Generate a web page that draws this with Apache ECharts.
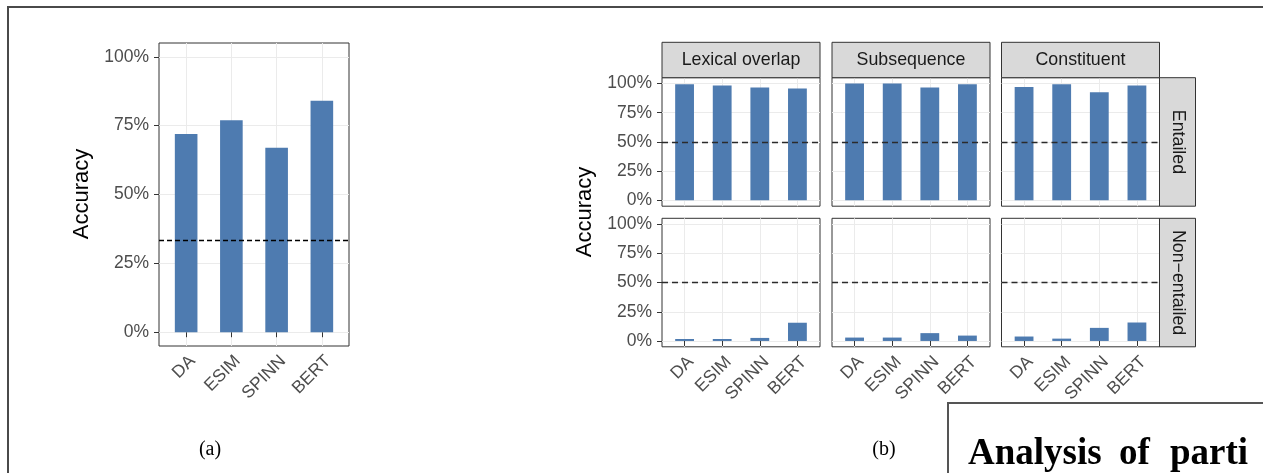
<!DOCTYPE html>
<html><head><meta charset="utf-8">
<script src="https://cdn.jsdelivr.net/npm/echarts@6/dist/echarts.min.js"></script>
<style>html,body{margin:0;padding:0;background:#fff}#c{width:1263px;height:473px}</style>
</head><body><div id="c"></div>
<script>
// ---------- data ----------
const models = ['DA', 'ESIM', 'SPINN', 'BERT'];
const overallAccuracy = [72, 77, 67, 84];
const overallChance = 33.3;
const heuristics = ['Lexical overlap', 'Subsequence', 'Constituent'];
const labelRows = ['Entailed', 'Non\u2212entailed'];
const lexicalEntailed = [99.4, 98.3, 96.6, 95.7];
const subsequenceEntailed = [100, 100, 96.6, 99.4];
const constituentEntailed = [97.1, 99.4, 92.5, 98.3];
const lexicalNonEntailed = [1.7, 1.7, 2.6, 15.6];
const subsequenceNonEntailed = [2.9, 2.9, 6.7, 4.6];
const constituentNonEntailed = [3.8, 2.0, 11.2, 15.8];
const heuristicChance = 50;
const yTicks = [0, 25, 50, 75, 100];
const captions = ['(a)', '(b)'];
const boxHeadingWords = ['Analysis', 'of', 'parti'];

// ---------- styling ----------
const FONT = '"Liberation Sans", Arial, Helvetica, sans-serif';
const SERIF = '"Liberation Serif", "Times New Roman", serif';
const TICK_COLOR = '#4D4D4D';
const BAR = '#4E7BB0';
const GRIDLINE = '#EBEBEB';
const BORDER = '#333333';
const TICK_FS = 17.5;
const xPos = models.map((_, i) => i + 1);

const panelValues = [
  [lexicalEntailed, subsequenceEntailed, constituentEntailed],
  [lexicalNonEntailed, subsequenceNonEntailed, constituentNonEntailed]
];

const leftGrid = { left: 159, top: 43, width: 190, height: 303 };
const colLeft = [662, 832, 1001.5];
const colW = 158;
const rowTop = [77.7, 218.3];
const rowH = 128.5;
const stripTop = 42.3;
const stripRightW = 36;

function xAxisFor(gi, showLabels) {
  return {
    type: 'value', gridIndex: gi, min: 0.4, max: 4.6,
    axisLine: { show: false },
    axisTick: { show: showLabels, customValues: xPos, length: 5, lineStyle: { color: BORDER, width: 1 } },
    axisLabel: {
      show: showLabels, customValues: xPos, rotate: 45, margin: 6,
      align: 'right', verticalAlign: 'top',
      fontFamily: FONT, fontSize: TICK_FS, color: TICK_COLOR,
      formatter: v => models[Math.round(v) - 1] || ''
    },
    splitLine: { show: true, lineStyle: { color: GRIDLINE, width: 1 } }
  };
}
function yAxisFor(gi, showLabels) {
  return {
    type: 'value', gridIndex: gi, min: -5, max: 105,
    axisLine: { show: false },
    axisTick: { show: showLabels, customValues: yTicks, length: 5, lineStyle: { color: BORDER, width: 1 } },
    axisLabel: {
      show: showLabels, customValues: yTicks, margin: 10,
      fontFamily: FONT, fontSize: TICK_FS, color: TICK_COLOR,
      formatter: v => v + '%'
    },
    splitLine: { show: true, lineStyle: { color: GRIDLINE, width: 1 } }
  };
}
function barSeries(gi, values, chance, bw, dashColor, dash) {
  return {
    type: 'bar', xAxisIndex: gi, yAxisIndex: gi,
    data: values.map((v, i) => [xPos[i], v]),
    barWidth: bw,
    itemStyle: { color: BAR },
    markLine: {
      silent: true, symbol: ['none', 'none'], label: { show: false },
      lineStyle: { type: dash, color: dashColor, width: 1.4 },
      data: [{ yAxis: chance }]
    }
  };
}

const grids = [Object.assign({ show: true, borderColor: BORDER, borderWidth: 1, backgroundColor: 'transparent' }, leftGrid)];
const xAxes = [xAxisFor(0, true)];
const yAxes = [yAxisFor(0, true)];
const series = [barSeries(0, overallAccuracy, overallChance, 0.5 * leftGrid.width / 4.2, '#000', [5, 3])];

for (let r = 0; r < 2; r++) {
  for (let c = 0; c < 3; c++) {
    const gi = grids.length;
    grids.push({ show: true, borderColor: BORDER, borderWidth: 1, backgroundColor: 'transparent',
      left: colLeft[c], top: rowTop[r], width: colW, height: rowH });
    xAxes.push(xAxisFor(gi, r === 1));
    yAxes.push(yAxisFor(gi, c === 0));
    series.push(barSeries(gi, panelValues[r][c], heuristicChance, 0.5 * colW / 4.2, '#2b2b2b', [6, 4]));
  }
}

const graphic = [];
// outer frame of the screenshot
graphic.push({ type: 'rect', z: 1, shape: { x: 8, y: 7, width: 1400, height: 600 },
  style: { fill: 'none', stroke: '#4a4a4a', lineWidth: 2 } });
// column strips
heuristics.forEach((h, c) => {
  graphic.push({ type: 'rect', z: 5, shape: { x: colLeft[c], y: stripTop, width: colW, height: rowTop[0] - stripTop },
    style: { fill: '#D9D9D9', stroke: BORDER, lineWidth: 1 } });
  graphic.push({ type: 'text', z: 6, x: colLeft[c] + colW / 2, y: (stripTop + rowTop[0]) / 2,
    style: { text: h, fontFamily: FONT, fontSize: 17.8, fill: '#1A1A1A', align: 'center', verticalAlign: 'middle' } });
});
// row strips
labelRows.forEach((l, r) => {
  const x0 = colLeft[2] + colW;
  graphic.push({ type: 'rect', z: 5, shape: { x: x0, y: rowTop[r], width: stripRightW, height: rowH },
    style: { fill: '#D9D9D9', stroke: BORDER, lineWidth: 1 } });
  graphic.push({ type: 'text', z: 6, x: x0 + stripRightW / 2, y: rowTop[r] + rowH / 2, rotation: -Math.PI / 2,
    style: { text: l, fontFamily: FONT, fontSize: 17.8, fill: '#1A1A1A', align: 'center', verticalAlign: 'middle' } });
});
// axis titles
graphic.push({ type: 'text', z: 6, x: 82, y: 194, rotation: Math.PI / 2,
  style: { text: 'Accuracy', fontFamily: FONT, fontSize: 22, fill: '#000', align: 'center', verticalAlign: 'middle' } });
graphic.push({ type: 'text', z: 6, x: 585, y: 212, rotation: Math.PI / 2,
  style: { text: 'Accuracy', fontFamily: FONT, fontSize: 22, fill: '#000', align: 'center', verticalAlign: 'middle' } });
// captions
graphic.push({ type: 'text', z: 6, x: 210, y: 450,
  style: { text: captions[0], fontFamily: SERIF, fontSize: 20, fill: '#000', align: 'center', verticalAlign: 'middle' } });
graphic.push({ type: 'text', z: 6, x: 884, y: 450,
  style: { text: captions[1], fontFamily: SERIF, fontSize: 20, fill: '#000', align: 'center', verticalAlign: 'middle' } });
// overlapping box at bottom right
graphic.push({ type: 'rect', z: 20, shape: { x: 948, y: 403, width: 400, height: 120 },
  style: { fill: '#fff', stroke: '#555', lineWidth: 2 } });
const wordX = [968, 1119, 1170];
boxHeadingWords.forEach((w, i) => {
  graphic.push({ type: 'text', z: 21, x: wordX[i], y: 454,
    style: { text: w, fontFamily: SERIF, fontWeight: 'bold', fontSize: 37, fill: '#000', align: 'left', verticalAlign: 'middle' } });
});

const chart = echarts.init(document.getElementById('c'), null, { renderer: 'canvas' });
chart.setOption({
  animation: false,
  backgroundColor: '#fff',
  grid: grids,
  xAxis: xAxes,
  yAxis: yAxes,
  series: series,
  graphic: graphic
});
</script>
</body></html>
